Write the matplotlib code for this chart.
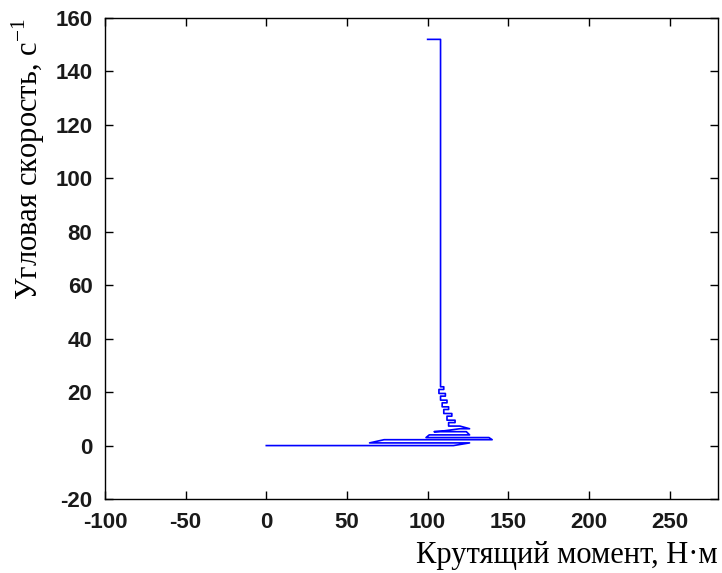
import matplotlib.pyplot as plt

# torque vs angular speed during motor start-up (dynamic mechanical characteristic)

torque = [0, 116, 126, 64, 73, 140, 138, 99, 101, 126, 124, 104, 110, 120, 126,
          120, 113, 113, 117, 117, 112, 112, 115, 115, 110, 110, 113, 113, 109,
          109, 112, 112, 108, 108, 111, 111, 107, 107, 110, 110, 108, 108, 100]
speed = [0, 0, 1, 1, 2.2, 2.2, 3, 3, 4, 4, 5.2, 5.2, 5.5, 6.3, 6.3,
         7.3, 7.3, 8.6, 8.6, 9.5, 9.5, 11, 11, 12, 12, 13.5, 13.5, 14.5, 14.5,
         16, 16, 17, 17, 18.5, 18.5, 19.5, 19.5, 21, 21, 22, 22, 152, 152]

xticks = [-100, -50, 0, 50, 100, 150, 200, 250]
yticks = [-20, 0, 20, 40, 60, 80, 100, 120, 140, 160]

plt.rcParams['mathtext.fontset'] = 'custom'
plt.rcParams['mathtext.rm'] = 'Liberation Serif'
plt.rcParams['axes.unicode_minus'] = False

fig = plt.figure(figsize=(7.22, 5.73), dpi=100)
ax = fig.add_axes([0.1454, 0.1291, 0.8491, 0.8395])

ax.plot(torque, speed, color='#0000ff', linewidth=1.2)

ax.set_xlim(-100, 280)
ax.set_ylim(-20, 160)
ax.set_xticks(xticks)
ax.set_yticks(yticks)
ax.tick_params(direction='in', top=True, right=True, length=6, width=1, pad=9)
for lab in ax.get_xticklabels() + ax.get_yticklabels():
    lab.set_family('Liberation Sans')
    lab.set_fontweight('bold')
    lab.set_fontsize(16)
    lab.set_color('#1a1a1a')
for s in ax.spines.values():
    s.set_linewidth(1)

ax.set_xlabel('Крутящий момент, Н·м', family='Liberation Serif', fontsize=22,
              loc='right', labelpad=6)
ax.set_ylabel('Угловая скорость, с$^{-1}$', family='Liberation Serif', fontsize=22,
              loc='top', labelpad=6)

fig.savefig('out.png', dpi=100)
